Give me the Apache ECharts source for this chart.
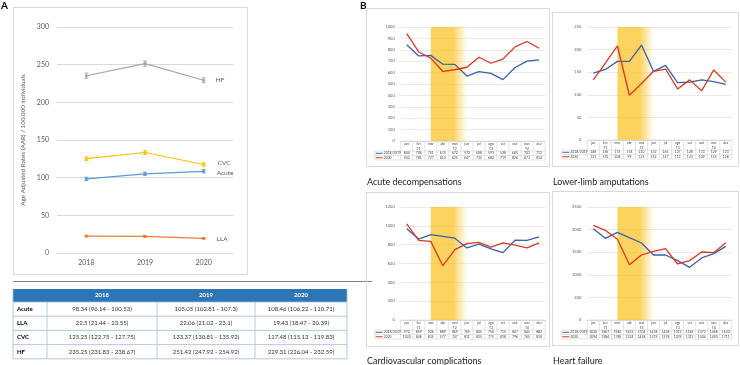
<!DOCTYPE html>
<html><head><meta charset="utf-8">
<script src="https://cdn.jsdelivr.net/npm/echarts@6/dist/echarts.min.js"></script>
<style>html,body{margin:0;padding:0;background:#fff}#c{width:740px;height:365px}</style>
</head><body><div id="c"></div>
<script>
// ---------- Panel A data ----------
const years = ['2018', '2019', '2020'];
const acute = [98.34, 105.05, 108.46];
const acuteLo = [96.14, 102.81, 106.22];
const acuteHi = [100.53, 107.3, 110.71];
const lla = [22.5, 22.06, 19.43];
const llaLo = [21.44, 21.02, 18.47];
const llaHi = [23.55, 23.1, 20.39];
const cvc = [125.25, 133.37, 117.48];
const cvcLo = [122.75, 130.81, 115.13];
const cvcHi = [127.75, 135.92, 119.83];
const hf = [235.25, 251.42, 229.31];
const hfLo = [231.83, 247.92, 226.04];
const hfHi = [238.67, 254.92, 232.59];
const yTicksA = [0, 300, 50];

// ---------- Panel B data ----------
const months = ['jan', 'fev', 'mar', 'abr', 'mai', 'jun', 'jul', 'ago', 'set', 'out', 'nov', 'dez'];
const quarters = ['', 'T1', '', '', 'T2', '', '', 'T3', '', '', 'T4', ''];
const refName = '2018/2019';
const newName = '2020';
const acuteRef = [844, 746, 751, 674, 672, 570, 608, 593, 538, 645, 701, 712];
const acute2020 = [942, 781, 727, 610, 625, 647, 735, 682, 719, 826, 873, 814];
const llaRef = [148, 156, 174, 174, 210, 152, 165, 127, 128, 133, 129, 123];
const lla2020 = [133, 170, 208, 99, 125, 152, 157, 113, 133, 109, 155, 128];
const cvcRef = [970, 859, 906, 889, 869, 765, 805, 756, 715, 847, 845, 882];
const cvc2020 = [1020, 846, 835, 577, 747, 811, 825, 775, 818, 796, 765, 818];
const hfRef = [2020, 1807, 1940, 1822, 1704, 1438, 1438, 1313, 1165, 1372, 1468, 1630];
const hf2020 = [2094, 1984, 1785, 1224, 1438, 1519, 1578, 1239, 1313, 1504, 1490, 1711];
const lockdown = [2, 5]; // mar .. jun
const titlesB = ['Acute decompensations', 'Lower-limb amputations', 'Cardiovascular complications', 'Heart failure'];
const yMaxB = [1000, 250, 1200, 2500];
const yStepB = [100, 50, 200, 500];

// ---------- layout ----------
const FONT = 'Lato, "Liberation Sans", sans-serif';
const GRAY = '#595959';
const gridsB = [
  {left: 400.7, top: 27, width: 144.4, height: 114},
  {left: 587.3, top: 27, width: 144.5, height: 113},
  {left: 400.7, top: 207, width: 144.4, height: 113},
  {left: 587.3, top: 207, width: 144.5, height: 113}
];
const boxesB = [[366, 8, 183, 158], [552, 12, 186, 154], [366, 192, 183, 154], [552, 191, 186, 154]];
const titlePos = [[367, 182], [553, 182], [367, 361], [553, 361]];
const colorsA = {Acute: '#5b9bd5', LLA: '#ed7d31', CVC: '#ffc000', HF: '#a5a5a5'};
const BLUE = '#3a5fae', RED = '#dc3722';
const BLUE_IN = '#4a6a2e', RED_IN = '#dd6418';

const chart = echarts.init(document.getElementById('c'), null, {renderer: 'canvas'});

const grid = [{left: 57, top: 27, width: 176, height: 226}].concat(gridsB);
const xAxis = [{
  gridIndex: 0, type: 'category', data: years, boundaryGap: true,
  axisLine: {lineStyle: {color: '#d9d9d9'}}, axisTick: {show: false},
  axisLabel: {fontSize: 7, color: GRAY, fontFamily: FONT, margin: 6}
}];
const yAxis = [{
  gridIndex: 0, type: 'value', min: yTicksA[0], max: yTicksA[1], interval: yTicksA[2],
  name: 'Age Adjusted Rates (AAR) / 100,000 individuals', nameLocation: 'middle', nameGap: 31,
  nameTextStyle: {fontSize: 6.3, color: GRAY, fontFamily: FONT},
  splitLine: {lineStyle: {color: '#d9d9d9', width: 1}},
  axisLabel: {fontSize: 7, color: GRAY, fontFamily: FONT, margin: 8}
}];
for (let g = 0; g < 4; g++) {
  xAxis.push({gridIndex: g + 1, type: 'category', data: months, boundaryGap: true,
    axisLine: {lineStyle: {color: '#d9d9d9'}}, axisTick: {show: false}, axisLabel: {show: false}});
  yAxis.push({gridIndex: g + 1, type: 'value', min: 0, max: yMaxB[g], interval: yStepB[g],
    splitLine: {lineStyle: {color: '#e3e3e3', width: 0.8}},
    axisLabel: {fontSize: 4, color: GRAY, fontFamily: FONT, margin: 6, formatter: v => String(v)}});
}

const series = [];
function errSeries(name, lo, hi) {
  return {
    type: 'custom', xAxisIndex: 0, yAxisIndex: 0, z: 3,
    data: lo.map((l, i) => [i, l, hi[i]]),
    renderItem: (params, api) => {
      const a = api.coord([api.value(0), api.value(1)]);
      const b = api.coord([api.value(0), api.value(2)]);
      const s = {stroke: colorsA[name], lineWidth: 0.9};
      return {type: 'group', children: [
        {type: 'line', shape: {x1: a[0], y1: a[1], x2: b[0], y2: b[1]}, style: s},
        {type: 'line', shape: {x1: a[0] - 2, y1: a[1], x2: a[0] + 2, y2: a[1]}, style: s},
        {type: 'line', shape: {x1: b[0] - 2, y1: b[1], x2: b[0] + 2, y2: b[1]}, style: s}
      ]};
    }
  };
}
function lineA(name, data, offset) {
  return {
    name, type: 'line', xAxisIndex: 0, yAxisIndex: 0, data, z: 2,
    symbol: 'circle', symbolSize: 3,
    lineStyle: {color: colorsA[name], width: 1.2}, itemStyle: {color: colorsA[name]},
    endLabel: {show: true, formatter: name, offset, fontSize: 6.5, color: GRAY, fontFamily: FONT}
  };
}
series.push(lineA('HF', hf, [4, 0]), errSeries('HF', hfLo, hfHi));
series.push(lineA('CVC', cvc, [6, -2]), errSeries('CVC', cvcLo, cvcHi));
series.push(lineA('Acute', acute, [5, 2]), errSeries('Acute', acuteLo, acuteHi));
series.push(lineA('LLA', lla, [5, 1]), errSeries('LLA', llaLo, llaHi));

const dataB = [[acuteRef, acute2020], [llaRef, lla2020], [cvcRef, cvc2020], [hfRef, hf2020]];
const shadeFill = new echarts.graphic.LinearGradient(0, 0, 1, 0, [
  {offset: 0, color: 'rgba(251,196,40,0.75)'}, {offset: 0.62, color: 'rgba(251,196,40,0.75)'}, {offset: 1, color: 'rgba(251,196,40,0)'}]);
const visualMap = [];
for (let g = 0; g < 4; g++) {
  const ax = g + 1;
  series.push({type: 'custom', xAxisIndex: ax, yAxisIndex: ax, z: 1, silent: true,
    data: [[lockdown[0], lockdown[1]]],
    renderItem: (params, api) => {
      const p0 = api.coord([api.value(0), 0]);
      const p1 = api.coord([api.value(1), 0]);
      const cs = params.coordSys;
      return {type: 'rect', shape: {x: p0[0], y: cs.y, width: p1[0] - p0[0], height: cs.height},
        style: {fill: shadeFill}};
    }});
  [[refName, 0, BLUE, BLUE_IN], [newName, 1, RED, RED_IN]].forEach(([nm, k, c, cin]) => {
    visualMap.push({show: false, type: 'piecewise', seriesIndex: series.length, dimension: 0,
      pieces: [{lt: lockdown[0], color: c}, {gte: lockdown[0], lte: lockdown[1], color: cin}, {gt: lockdown[1], color: c}]});
    series.push({name: nm, type: 'line', xAxisIndex: ax, yAxisIndex: ax, data: dataB[g][k], symbol: 'none', z: 3,
      lineStyle: {color: c, width: 1.3}});
  });
}

// ---------- graphics: boxes, labels, tables ----------
const graphic = [];
const txt = (x, y, text, o = {}) => graphic.push({type: 'text', x, y, silent: true,
  style: Object.assign({text, fontSize: 6.5, fill: '#222', fontFamily: FONT, align: 'left', verticalAlign: 'middle'}, o)});
const ln = (x1, y1, x2, y2, stroke, w = 0.8) => graphic.push({type: 'line', silent: true,
  shape: {x1, y1, x2, y2}, style: {stroke, lineWidth: w}});

graphic.push({type: 'rect', shape: {x: 13.5, y: 7.5, width: 234, height: 267}, style: {fill: 'none', stroke: '#d9d9d9', lineWidth: 1}});
txt(1, 6, 'A', {fontSize: 10, fontWeight: 'bold', fill: '#000'});
txt(360, 6, 'B', {fontSize: 10, fontWeight: 'bold', fill: '#000'});
ln(13, 281.5, 372, 281.5, '#7f7f7f', 1);

// table A
const colX = [13, 47, 157, 255, 347];
const hdrTop = 289, hdrH = 13, rowH = 14.2;
const rowsA = [['Acute', acute, acuteLo, acuteHi], ['LLA', lla, llaLo, llaHi], ['CVC', cvc, cvcLo, cvcHi], ['HF', hf, hfLo, hfHi]];
graphic.push({type: 'rect', shape: {x: colX[0], y: hdrTop, width: colX[4] - colX[0], height: hdrH}, style: {fill: '#2e75b6'}});
years.forEach((y, i) => txt((colX[i + 1] + colX[i + 2]) / 2, hdrTop + hdrH / 2, y, {align: 'center', fill: '#fff', fontWeight: 'bold', fontSize: 6}));
const tabBottom = hdrTop + hdrH + rowH * rowsA.length;
for (let r = 0; r <= rowsA.length; r++) ln(colX[0], hdrTop + hdrH + r * rowH, colX[4], hdrTop + hdrH + r * rowH, '#9dbbe0');
colX.forEach((x, i) => ln(x, i === 0 || i === 4 ? hdrTop : hdrTop + hdrH, x, tabBottom, '#9dbbe0'));
rowsA.forEach((row, r) => {
  const cy = hdrTop + hdrH + r * rowH + rowH / 2;
  txt(colX[0] + 4, cy, row[0], {fontWeight: 'bold', fill: '#000', fontSize: 6});
  for (let i = 0; i < 3; i++)
    txt((colX[i + 1] + colX[i + 2]) / 2, cy, `${row[1][i]} (${row[2][i]} - ${row[3][i]})`, {align: 'center', fill: '#333', fontSize: 6});
});

// panel B boxes, titles, data tables
for (let g = 0; g < 4; g++) {
  const b = boxesB[g];
  graphic.push({type: 'rect', shape: {x: b[0] + 0.5, y: b[1] + 0.5, width: b[2], height: b[3]}, style: {fill: 'none', stroke: '#d9d9d9', lineWidth: 1}});
  txt(titlePos[g][0], titlePos[g][1], titlesB[g], {fontSize: 9, fill: '#222'});
  const gr = gridsB[g];
  const top = gr.top + gr.height, L = gr.left, W = gr.width, cw = W / 12, leg = L - 26;
  const rows = [top, top + 10, top + 14.5, top + 19];
  const bc = '#d4d4d4';
  ln(L, rows[0], L + W, rows[0], bc, 0.6);
  for (let r = 1; r < 4; r++) ln(leg, rows[r], L + W, rows[r], bc, 0.6);
  for (let i = 0; i <= 12; i++) ln(L + i * cw, rows[0], L + i * cw, rows[3], bc, 0.6);
  ln(leg, rows[1], leg, rows[3], bc, 0.6);
  const fs = {fontSize: 3.4, fill: '#444', align: 'center'};
  months.forEach((m, i) => {
    const cx = L + (i + 0.5) * cw;
    txt(cx, top + 3, m, fs);
    if (quarters[i]) txt(cx, top + 7.5, quarters[i], fs);
    txt(cx, (rows[1] + rows[2]) / 2, String(dataB[g][0][i]), fs);
    txt(cx, (rows[2] + rows[3]) / 2, String(dataB[g][1][i]), fs);
  });
  ln(leg + 1, (rows[1] + rows[2]) / 2, leg + 8, (rows[1] + rows[2]) / 2, BLUE, 1);
  ln(leg + 1, (rows[2] + rows[3]) / 2, leg + 8, (rows[2] + rows[3]) / 2, RED, 1);
  txt(leg + 9, (rows[1] + rows[2]) / 2, refName, {fontSize: 3.4, fill: '#444'});
  txt(leg + 9, (rows[2] + rows[3]) / 2, newName, {fontSize: 3.4, fill: '#444'});
}

chart.setOption({animation: false, backgroundColor: '#fff', textStyle: {fontFamily: FONT},
  grid, xAxis, yAxis, series, visualMap, graphic});
</script></body></html>
